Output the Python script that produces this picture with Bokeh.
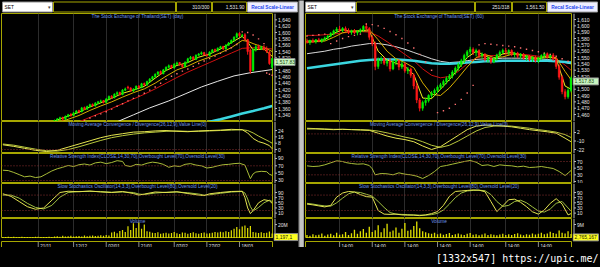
from bokeh.plotting import figure
from bokeh.layouts import row, column
from bokeh.models import Range1d, FixedTicker, Span, Label, ColumnDataSource
from bokeh.embed import file_html
from bokeh.resources import INLINE
from bokeh.core.properties import value

# ====================== DATA : left chart (daily) ======================
L_N = 100
L_cx = list(range(18, 100))
L_open = [1312,1318,1323,1327,1332,1326,1335,1342,1338,1346,1354,1350,1363,1358,1366,1373,1368,1377,1382,1385,
          1379,1390,1399,1394,1405,1411,1404,1418,1428,1425,1416,1421,1431,1426,1439,1434,1445,1453,1460,1468,
          1477,1470,1482,1490,1496,1488,1500,1505,1498,1492,1506,1517,1523,1515,1528,1532,1537,1530,1527,1538,
          1546,1542,1550,1556,1548,1560,1567,1575,1585,1597,1590,1593,1578,1545,1480,1545,1556,1550,1554,1547,
          1538,1490]
L_high = [1320,1325,1330,1334,1334,1338,1343,1345,1349,1355,1356,1365,1366,1369,1375,1376,1380,1384,1388,1387,
          1393,1401,1402,1408,1414,1413,1421,1426,1432,1427,1424,1433,1434,1441,1442,1448,1456,1463,1471,1478,
          1480,1485,1493,1499,1498,1503,1508,1507,1500,1509,1520,1526,1525,1531,1535,1540,1539,1533,1541,1548,
          1549,1553,1558,1558,1563,1570,1578,1588,1600,1601,1596,1598,1580,1548,1550,1560,1562,1558,1560,1556,
          1542,1520]
L_low = [1308,1315,1319,1324,1322,1324,1332,1334,1336,1343,1345,1348,1355,1356,1363,1365,1366,1374,1378,1376,
         1377,1388,1391,1392,1402,1401,1402,1415,1420,1413,1412,1418,1423,1424,1430,1432,1442,1450,1457,1465,
         1467,1468,1479,1487,1485,1486,1497,1495,1489,1490,1504,1514,1512,1513,1525,1529,1527,1524,1525,1535,
         1539,1540,1547,1545,1546,1557,1564,1572,1582,1586,1584,1574,1530,1470,1476,1540,1546,1545,1543,1535,
         1498,1486]
L_close = [1318,1322,1327,1331,1326,1335,1340,1338,1346,1352,1349,1362,1358,1366,1372,1368,1377,1381,1384,1379,
           1390,1398,1394,1405,1410,1404,1418,1422,1425,1416,1421,1430,1426,1438,1434,1445,1453,1460,1468,1475,
           1470,1482,1490,1495,1488,1500,1504,1498,1492,1506,1517,1522,1515,1528,1532,1536,1530,1527,1538,1545,
           1542,1550,1555,1548,1560,1567,1575,1585,1596,1590,1592,1578,1540,1478,1545,1555,1550,1553,1547,1540,
           1502,1517.83]

L_ma_x = [16,20,24,28,32,36,40,44,48,52,56,60,64,68,72,76,80,84,88,90,92,96,99]
L_ma5 = [1310,1324,1336,1348,1365,1378,1392,1408,1418,1430,1456,1480,1496,1505,1522,1532,1548,1568,1588,1570,1545,1548,1525]
L_ma10 = [1300,1314,1326,1338,1354,1368,1381,1396,1410,1422,1440,1462,1482,1494,1510,1522,1536,1552,1575,1572,1565,1553,1540]
L_ma25_x = [24,28,32,36,40,44,48,52,56,60,64,68,72,76,80,84,88,92,96,99]
L_ma25 = [1305,1318,1332,1346,1360,1375,1390,1405,1422,1440,1458,1475,1490,1505,1520,1535,1550,1552,1550,1548]
L_ma75_x = [30,36,42,48,54,61,67,73,79,85,91,95,99]
L_ma75 = [1280,1300,1318,1340,1362,1384,1406,1428,1446,1463,1473,1478,1483]
L_ma200_x = [70,76,80,84,88,92,96,99]
L_ma200 = [1304,1318,1326,1335,1344,1352,1361,1368]
L_sar_x = [30,32,34,36,38,40,42,44,46,48,50,52,54,56,58,60,62,64,66,68,70,72,74,76,78,80,82,84,86,
           88,90,92,94,96,97,98,99]
L_sar = [1322,1330,1337,1343,1350,1358,1367,1375,1384,1392,1400,1408,1418,1428,1440,1452,1462,1470,1478,1485,
         1493,1502,1510,1518,1526,1534,1542,1552,1562,1602,1600,1592,1580,1565,1472,1468,1465]

L_macd_x = [0,4,8,12,16,20,24,28,32,36,40,44,48,52,56,60,64,68,72,76,80,84,88,90,92,94,96,98,99]
L_macd = [6,4,1.5,-1,-2.5,-1,3,7,11,15,18,20,22,22.5,23.5,24,23,22.5,23.5,24,24.5,25.5,25,21,14,10,8,5,1]
L_signal = [7,5.5,3,0.5,-1.5,-2,0,3.5,7.5,11.5,15,17.5,19.5,21,22,23,23.5,23,23,23.5,24,24.5,25,24,21,17,13.5,10,8]

L_rsi_x = [0,2,4,6,8,10,12,14,16,18,20,22,24,26,28,30,32,34,36,38,40,42,44,45,47,49,51,53,55,57,59,61,63,65,
           67,69,71,73,75,77,79,81,83,85,87,89,91,92,93,95,97,98,99]
L_rsi = [58,57,52,46,40,42,38,40,48,56,62,66,71,68,73,75,72,78,80,76,79,84,82,71,68,74,72,77,80,78,74,66,70,68,
         74,76,72,70,64,66,70,73,74,76,77,72,35,48,53,55,54,47,44]

L_sto_x = [0,3,6,9,12,15,18,21,24,28,32,36,40,44,48,50,52,56,60,64,68,72,74,76,80,84,88,89,90,91,92,94,96,98,99]
L_k = [85,75,55,35,25,30,60,90,95,93,96,92,90,94,86,80,84,92,90,93,86,80,78,85,90,94,95,70,30,8,20,50,62,58,48]
L_d = [80,80,68,48,32,26,40,72,90,94,94,94,91,92,90,84,82,88,91,92,89,84,80,81,87,92,94,88,65,35,18,32,50,60,55]

L_vol = [1.8,1.5,2.0,1.6,1.9,1.4,1.7,2.1,1.5,1.8,1.7,1.5,1.9,2.1,1.6,1.8,1.5,2.0,1.7,2.2,
         2.8,2.0,3.3,2.4,2.6,3.5,2.3,2.9,3.1,2.5,3.8,2.7,3.4,4.0,3.0,3.6,4.3,3.3,4.5,3.9,
         8.2,9.5,7.0,10.5,12.0,9.0,17.5,12.0,22.0,15.0,23.0,14.0,20.0,10.0,9.5,8.0,7.5,8.8,6.5,7.2,
         8.0,6.8,7.5,9.2,7.0,6.2,8.4,7.8,6.6,7.4,8.6,7.0,6.4,7.6,8.2,6.8,7.2,8.0,9.0,8.4,
         9.5,8.8,10.0,9.2,11.5,14.0,16.5,13.0,17.0,18.5,15.0,18.0,9.0,8.2,7.6,8.8,7.4,8.0,9.6,6.7]

L_price_ticks = [1340,1360,1380,1400,1420,1440,1460,1480,1500,1520,1540,1560,1580,1600,1620,1640]
L_macd_ticks = [0, 8, 16, 24]
L_rsi_ticks = [30, 50, 70, 90]
L_sto_ticks = [10, 30, 50, 70, 90]
L_vol_ticks = [20]
L_vol_labels = ["20M"]
L_date_ticks = [13, 26, 38, 50, 63, 75, 87]
L_date_labels = ["21/11", "12/12", "02/01", "21/01", "07/02", "27/02", "18/03"]
L_last_price = "1,517.83"
L_last_vol = "1,197,1"

# ====================== DATA : right chart (60 min) ======================
R_N = 90
R_cx = list(range(0, 90))
R_open = [1576,1574,1577,1575,1578,1576,1579,1581,1584,1588,1592,1595,1593,1596,1592,1590,1592,1589,1591,1594,
          1599,1596,1582,1572,1536,1546,1548,1541,1544,1532,1543,1545,1535,1540,1529,1532,1522,1505,1483,1470,
          1479,1482,1490,1494,1498,1503,1507,1512,1517,1521,1527,1533,1539,1545,1553,1559,1563,1558,1561,1553,
          1555,1547,1549,1543,1548,1554,1558,1561,1559,1561,1555,1557,1552,1555,1549,1552,1547,1550,1545,1549,
          1553,1556,1551,1554,1548,1536,1519,1496,1488,1498]
R_high = [1580,1578,1580,1579,1581,1580,1583,1586,1590,1594,1598,1600,1598,1599,1596,1594,1595,1593,1596,1601,
          1603,1598,1585,1575,1550,1552,1551,1547,1549,1546,1548,1547,1544,1542,1535,1534,1525,1510,1486,1482,
          1486,1492,1497,1501,1506,1510,1515,1520,1524,1530,1536,1542,1548,1556,1562,1567,1566,1564,1563,1558,
          1557,1552,1551,1550,1556,1561,1564,1565,1563,1563,1559,1559,1557,1557,1554,1554,1552,1553,1551,1555,
          1558,1558,1556,1557,1550,1539,1522,1500,1502,1520]
R_low = [1572,1570,1573,1572,1574,1573,1576,1578,1582,1585,1589,1591,1590,1591,1587,1586,1587,1585,1588,1591,
         1592,1578,1568,1530,1532,1540,1538,1536,1528,1530,1538,1530,1532,1526,1524,1518,1500,1478,1465,1466,
         1474,1479,1486,1490,1494,1499,1503,1508,1513,1517,1523,1529,1535,1541,1549,1555,1554,1552,1550,1548,
         1544,1542,1540,1541,1545,1551,1555,1556,1554,1552,1550,1549,1548,1546,1545,1544,1543,1542,1541,1546,
         1549,1548,1547,1545,1532,1515,1492,1484,1485,1495]
R_close = [1574,1577,1575,1578,1576,1579,1581,1584,1588,1592,1595,1593,1596,1592,1590,1592,1589,1591,1594,1599,
           1596,1582,1572,1536,1546,1548,1541,1544,1532,1543,1545,1535,1540,1529,1532,1522,1505,1483,1470,1479,
           1482,1490,1494,1498,1503,1507,1512,1517,1521,1527,1533,1539,1545,1553,1559,1563,1558,1561,1553,1555,
           1547,1549,1543,1548,1554,1558,1561,1559,1561,1555,1557,1552,1555,1549,1552,1547,1550,1545,1549,1553,
           1556,1551,1554,1548,1536,1519,1496,1488,1498,1517.83]

R_ma_x = [0,3,6,9,12,15,18,21,24,27,30,33,36,39,42,45,48,51,54,57,60,63,66,69,72,75,78,81,84,87,89]
R_ma_cyan = [1533,1535,1537,1539,1541,1543,1545,1546,1547,1547,1547,1546,1545,1543,1541,1540,1540,1541,1542,1543,
             1544,1544,1545,1545,1545,1545,1545,1545,1544,1543,1542]
R_ma_white = [1556,1558,1560,1563,1565,1568,1570,1572,1572,1570,1567,1563,1558,1553,1548,1544,1542,1543,1545,1547,
              1548,1548,1549,1549,1549,1548,1548,1547,1545,1542,1540]
R_ma_red = [1585,1585,1586,1587,1589,1590,1591,1590,1584,1575,1565,1555,1545,1532,1522,1518,1520,1528,1540,1549,
            1553,1553,1555,1556,1555,1554,1552,1551,1548,1538,1530]
R_ma5 = [1576,1576,1578,1588,1594,1591,1592,1592,1560,1546,1541,1536,1523,1486,1485,1500,1515,1532,1550,1560,
         1553,1546,1556,1558,1554,1550,1548,1553,1548,1505,1500]
R_ma10 = [1574,1575,1576,1582,1589,1592,1592,1594,1578,1560,1548,1542,1534,1510,1492,1490,1502,1518,1535,1550,
          1555,1550,1551,1555,1555,1552,1549,1550,1550,1528,1515]
R_sar_x = [0,2,4,6,8,10,12,14,16,18,20,22,24,26,28,30,32,34,36,38,40,42,44,46,48,50,52,54,56,
           58,60,62,64,66,68,70,72,74,76,78,80,82,84,86,88]
R_sar = [1584,1585,1586,1587,1572,1576,1580,1583,1585,1587,1603,1602,1600,1596,1591,1586,1580,1573,1565,1555,
         1543,1530,1463,1466,1470,1476,1484,1494,1506,1570,1572,1571,1570,1569,1568,1567,1565,1563,1561,1559,
         1557,1555,1552,1548,1544]

R_macd_x = [0,3,6,9,12,15,18,21,24,27,30,33,36,39,42,45,48,51,54,57,60,63,66,69,72,75,78,81,84,87,89]
R_macd = [7,7,6.5,6,6.5,6,5.5,5,1,-3,-6,-8,-11,-17,-22,-18,-10,-2,6,11,12.5,12,11,10,8,6,4.5,3,1,-6,-11]
R_signal = [8,7.5,7,6.5,6.5,6.2,6,5.5,4,1.5,-1.5,-4.5,-7,-11,-16,-19,-16,-10,-3,4,9,11,11.5,11,9.5,8,6,4.5,2.5,-1,-5]

R_rsi_x = [0,2,4,6,8,10,12,13,15,17,19,21,22,23,25,27,29,31,33,35,37,39,41,43,45,47,49,51,53,55,57,59,61,63,
           65,67,69,71,73,75,77,79,81,83,85,87,88,89]
R_rsi = [57,55,56,60,66,72,70,67,64,62,63,58,48,30,34,33,30,36,32,30,26,19,28,40,55,58,62,66,70,73,68,58,60,55,
         60,58,57,54,56,52,53,55,52,49,40,28,35,43]

R_sto_x = [0,2,4,6,8,10,12,14,16,18,20,22,24,26,28,30,32,34,36,38,40,42,44,46,48,50,52,54,56,58,60,62,64,66,
           68,70,72,74,76,78,80,82,84,86,88,89]
R_k = [45,42,38,34,40,72,88,94,92,82,74,72,20,6,5,6,3,2,2,0,3,8,16,40,75,94,96,98,100,99,93,55,16,38,62,64,52,
       35,15,6,22,48,66,45,3,8]
R_d = [48,45,41,38,37,50,68,85,92,90,83,76,55,32,12,6,5,4,3,2,2,4,9,22,45,70,88,96,98,99,97,82,55,36,40,55,60,
       50,34,18,14,26,48,55,30,18]

R_vol = [2.0,1.5,2.5,1.8,2.2,3.0,1.6,2.4,2.8,1.9,3.5,2.2,2.6,4.0,2.1,
         3.2,5.5,2.8,4.5,6.0,3.5,7.5,4.0,5.2,8.5,3.8,6.5,9.5,4.2,5.0,
         7.0,3.6,6.2,10.0,4.8,5.5,8.0,11.0,6.5,4.5,3.8,3.2,2.8,3.6,2.5,
         3.0,2.2,2.7,3.4,2.1,2.6,3.0,2.4,2.0,2.8,3.3,2.2,2.5,1.9,2.3,
         3.1,2.0,2.6,2.2,1.8,2.4,2.9,2.1,2.5,2.0,2.7,3.2,2.3,1.9,2.6,
         2.2,3.0,2.4,2.8,3.5,2.5,3.0,4.2,3.3,2.9,5.0,3.6,3.0,4.5,2.77]

R_price_ticks = [1460,1470,1480,1490,1500,1510,1520,1530,1540,1550,1560,1570,1580,1590,1600,1610]
R_macd_ticks = [-22, -10, 2]
R_rsi_ticks = [10, 30, 50, 70]
R_sto_ticks = [10, 30, 50, 70, 90]
R_vol_ticks = [9]
R_vol_labels = ["9M"]
R_date_ticks = [11, 22, 33, 44, 55, 67, 78]
R_date_labels = ["14:00"] * 7
R_last_price = "1,517.83"
R_last_vol = "2,765,167"

for a, b in [(L_cx, L_open), (L_cx, L_high), (L_cx, L_low), (L_cx, L_close), (L_ma_x, L_ma5), (L_ma_x, L_ma10),
             (L_ma25_x, L_ma25), (L_ma75_x, L_ma75), (L_ma200_x, L_ma200), (L_sar_x, L_sar), (L_macd_x, L_macd),
             (L_macd_x, L_signal), (L_rsi_x, L_rsi), (L_sto_x, L_k), (L_sto_x, L_d), (R_cx, R_open), (R_cx, R_high),
             (R_cx, R_low), (R_cx, R_close), (R_ma_x, R_ma_cyan), (R_ma_x, R_ma_white), (R_ma_x, R_ma_red),
             (R_ma_x, R_ma5), (R_ma_x, R_ma10), (R_sar_x, R_sar), (R_macd_x, R_macd), (R_macd_x, R_signal),
             (R_rsi_x, R_rsi), (R_sto_x, R_k), (R_sto_x, R_d)]:
    assert len(a) == len(b), (len(a), len(b))
assert len(L_vol) == L_N and len(R_vol) == R_N

# ====================== STYLE / LAYOUT ======================
FONT = "Liberation Sans"
C_BG = "#000000"
C_FRAME = "#a6a600"
C_AXIS = "#b8b8b8"
C_TXT = "#e4e4e4"
C_TITLE = "#6f95e8"
C_GRID = "#2c2c2c"
C_REF = "#8c3030"
C_UP = "#00f000"
C_DN = "#ff1818"
AX_FS = "5px"
TI_FS = "4.7px"

L_PW, L_AW = 273, 25      # left: plot figure width (incl. 1px left border), axis strip width
R_PW, R_AW = 268, 28      # right
H_HEAD, H_PRICE, H_MACD, H_RSI, H_STO, H_VOL, H_DATE, H_FOOT = 13, 108, 32, 30, 35, 20, 9, 20
BOX_H = 7


def bare(w, h, xr, yr, outline=None, bl=0, bg=C_BG):
    p = figure(width=w, height=h, x_range=xr, y_range=yr, output_backend="svg", toolbar_location=None,
               x_axis_location=None, y_axis_location=None, min_border_left=bl, min_border_right=0,
               min_border_top=0, min_border_bottom=0, background_fill_color=bg, border_fill_color=bg,
               outline_line_color=outline, outline_line_width=1)
    p.xgrid.visible = False
    p.ygrid.visible = False
    return p


def plot_panel(w, h, xr, yr, xticks):
    p = bare(w, h, xr, yr, outline=C_FRAME, bl=1)
    p.xgrid.visible = True
    p.xgrid.ticker = FixedTicker(ticks=xticks)
    p.xgrid.grid_line_color = C_GRID
    return p


def axis_strip(w, h, yr, lo, hi, ticks, labels, box=None):
    p = bare(w, h, Range1d(0, w), yr)
    p.segment(x0=[1.5], y0=[lo], x1=[1.5], y1=[hi], line_color=C_AXIS, line_width=1)
    p.segment(x0=[1.5] * len(ticks), y0=ticks, x1=[3.5] * len(ticks), y1=ticks, line_color=C_AXIS, line_width=1)
    p.text(x=[4.5] * len(ticks), y=ticks, text=labels, text_baseline="middle", text_font=value(FONT),
           text_font_size=AX_FS, text_color=C_TXT)
    if box is not None:
        val, text, fill, tcol, bw = box
        upp = (yr.end - yr.start) / h
        p.quad(left=[0.5], right=[bw], top=[val], bottom=[val - BOX_H * upp], fill_color=fill,
               line_color="#8a8a8a", line_width=1)
        p.text(x=[2], y=[val - BOX_H * upp / 2], text=[text], text_baseline="middle", text_font=value(FONT),
               text_font_size=AX_FS, text_color=tcol)
    return p


def add_title(p, xr, yr, text):
    p.add_layout(Label(x=(xr.start + xr.end) / 2, y=yr.end, text=text, text_align="center",
                       text_baseline="top", text_font=FONT, text_font_size=TI_FS, text_color=C_TITLE))


def candles(p, xs, o, h, l, c, width):
    col = [C_UP if cc >= oo else C_DN for oo, cc in zip(o, c)]
    src = ColumnDataSource(dict(x=xs, h=h, l=l, top=[max(a, b) for a, b in zip(o, c)],
                                bot=[min(a, b) for a, b in zip(o, c)], col=col))
    p.segment(x0="x", y0="h", x1="x", y1="l", line_color="col", line_width=1, source=src)
    p.vbar(x="x", width=width, top="top", bottom="bot", fill_color="col", line_color="col",
           line_width=0.5, source=src)


def header(w, boxes, texts):
    p = bare(w, H_HEAD, Range1d(0, w), Range1d(H_HEAD, 0))
    for (x0, x1, fill, line) in boxes:
        p.quad(left=x0, right=x1, top=1.5, bottom=11.5, fill_color=fill, line_color=line, line_width=1)
    for (x, t, align, color, style) in texts:
        p.text(x=[x], y=[6.8], text=[t], text_align=align, text_baseline="middle",
               text_font=value(FONT), text_font_size="4.8px", text_color=color, text_font_style=style)
    return p


def fmt_ticks(ticks):
    return [f"{t:,}" for t in ticks]


def half(pw, aw, n, cx, o, h, l, c, ma_sets, sar_x, sar, macd_x, macd, sig, rsi_x, rsi, sto_x, k, d,
         vol, price_rng, price_ticks, macd_rng, macd_ticks, rsi_rng, rsi_ticks, sto_rng, sto_ticks,
         vol_rng, vol_ticks, vol_labels, date_ticks, date_labels, ptitle, last_price, last_vol, hdr,
         pbox_w, vbox_w):
    xr = Range1d(-0.5, n - 0.5)
    # price
    pr = Range1d(*price_rng)
    pp = plot_panel(pw, H_PRICE, xr, pr, date_ticks)
    for (mx, my, colr, lw) in ma_sets:
        pp.line(mx, my, line_color=colr, line_width=lw)
    candles(pp, cx, o, h, l, c, 0.6)
    pp.scatter(sar_x, sar, marker="square", size=1.4, fill_color="#ff7070", line_color=None)
    add_title(pp, xr, pr, ptitle)
    ap = axis_strip(aw, H_PRICE, pr, pr.start, pr.end, price_ticks, fmt_ticks(price_ticks),
                    box=(c[-1], last_price, "#c8f4c0", "#1a4a10", pbox_w))
    # macd
    mr = Range1d(*macd_rng)
    pm = plot_panel(pw, H_MACD, xr, mr, date_ticks)
    pm.add_layout(Span(location=0, dimension="width", line_color=C_REF, line_dash="1 2", line_width=1))
    pm.line(macd_x, sig, line_color="#b8c83c", line_width=1)
    pm.line(macd_x, macd, line_color="#e6e650", line_width=1)
    add_title(pm, xr, mr, "Moving Average Convergence / Divergence(26,12,9),Value Line(0)")
    am = axis_strip(aw, H_MACD, mr, mr.start, mr.end, macd_ticks, fmt_ticks(macd_ticks))
    # rsi
    rr = Range1d(*rsi_rng)
    prs = plot_panel(pw, H_RSI, xr, rr, date_ticks)
    for lev in (70, 30):
        prs.add_layout(Span(location=lev, dimension="width", line_color=C_REF, line_dash="1 2", line_width=1))
    prs.line(rsi_x, rsi, line_color="#a8bc38", line_width=1)
    add_title(prs, xr, rr, "Relative Strength Index(CLOSE,14,30,70),Overbought Level(70),Oversold Level(30)")
    ar = axis_strip(aw, H_RSI, rr, rr.start, rr.end, rsi_ticks, fmt_ticks(rsi_ticks))
    # stochastic
    sr = Range1d(*sto_rng)
    ps = plot_panel(pw, H_STO, xr, sr, date_ticks)
    for lev in (80, 20):
        ps.add_layout(Span(location=lev, dimension="width", line_color=C_REF, line_dash="1 2", line_width=1))
    ps.line(sto_x, d, line_color="#a0c040", line_width=1)
    ps.line(sto_x, k, line_color="#e4e450", line_width=1)
    add_title(ps, xr, sr, "Slow Stochastics Oscillator(14,3,3),Overbought Level(80),Oversold Level(20)")
    ast = axis_strip(aw, H_STO, sr, sr.start, sr.end, sto_ticks, fmt_ticks(sto_ticks))
    # volume
    vr = Range1d(*vol_rng)
    pv = plot_panel(pw, H_VOL, xr, vr, date_ticks)
    pv.vbar(x=list(range(n)), width=0.45, top=vol, bottom=0, fill_color="#dede00", line_color=None)
    add_title(pv, xr, vr, "Volume")
    vupp = (vr.end - vr.start) / H_VOL
    vr_ax = Range1d(vr.start - H_DATE * vupp, vr.end)   # axis strip also covers the date row
    av = axis_strip(aw, H_VOL + H_DATE, vr_ax, vr.start, vr.end, vol_ticks, vol_labels,
                    box=(vol[-1], last_vol, "#ffff20", "#202000", vbox_w))
    # date strip
    pd_ = bare(pw, H_DATE, xr, Range1d(0, 1), outline=C_FRAME, bl=1)
    pd_.segment(x0=date_ticks, y0=[0] * len(date_ticks), x1=date_ticks, y1=[1] * len(date_ticks),
                line_color="#8a8a8a", line_width=1)
    pd_.text(x=date_ticks, y=[0.5] * len(date_ticks), text=date_labels, x_offset=2, text_baseline="middle",
             text_font=value(FONT), text_font_size="4.6px", text_color=C_TXT)
    return column(hdr,
                  row(pp, ap, spacing=0), row(pm, am, spacing=0), row(prs, ar, spacing=0),
                  row(ps, ast, spacing=0), row(column(pv, pd_, spacing=0), av, spacing=0), spacing=0)


hdr_l = header(L_PW + L_AW,
               [(2, 52, "#ffffff", "#909090"), (53, 175, C_BG, C_FRAME), (176, 211, C_BG, C_FRAME),
                (212, 246, C_BG, C_FRAME), (247, 297, "#eeeeff", "#a0a0a0")],
               [(4, "SET", "left", "#000000", "normal"), (50, "\u25be", "right", "#404040", "normal"),
                (209, "310/300", "right", C_TXT, "normal"), (244, "1,531.90", "right", C_TXT, "normal"),
                (272, "Recal Scale-Linear", "center", "#2244ee", "bold")])
hdr_r = header(R_PW + R_AW,
               [(1, 51, "#ffffff", "#909090"), (52, 170, C_BG, C_FRAME), (171, 207, C_BG, C_FRAME),
                (208, 242, C_BG, C_FRAME), (243, 293, "#eeeeff", "#a0a0a0")],
               [(3, "SET", "left", "#000000", "normal"), (49, "\u25be", "right", "#404040", "normal"),
                (205, "251/318", "right", C_TXT, "normal"), (240, "1,561.50", "right", C_TXT, "normal"),
                (268, "Recal Scale-Linear", "center", "#2244ee", "bold")])

left = half(L_PW, L_AW, L_N, L_cx, L_open, L_high, L_low, L_close,
            [(L_ma200_x, L_ma200, "#3ad6e0", 2.5), (L_ma75_x, L_ma75, "#e8e8e8", 1),
             (L_ma25_x, L_ma25, "#d01010", 1), (L_ma_x, L_ma10, "#d8b000", 1), (L_ma_x, L_ma5, "#f0f020", 1)],
            L_sar_x, L_sar, L_macd_x, L_macd, L_signal, L_rsi_x, L_rsi, L_sto_x, L_k, L_d, L_vol,
            (1319, 1660), L_price_ticks, (-5, 35.4), L_macd_ticks, (21.8, 103.6), L_rsi_ticks,
            (-11, 125), L_sto_ticks, (-0.6, 29), L_vol_ticks, L_vol_labels,
            L_date_ticks, L_date_labels, "The Stock Exchange of Thailand(SET) (day)", L_last_price, L_last_vol,
            hdr_l, 21.5, 24.5)

right = half(R_PW, R_AW, R_N, R_cx, R_open, R_high, R_low, R_close,
             [(R_ma_x, R_ma_white, "#d8d8d8", 1), (R_ma_x, R_ma_red, "#d01010", 1),
              (R_ma_x, R_ma_cyan, "#3ad6e0", 2.5), (R_ma_x, R_ma10, "#d8b000", 1), (R_ma_x, R_ma5, "#f0f020", 1)],
             R_sar_x, R_sar, R_macd_x, R_macd, R_signal, R_rsi_x, R_rsi, R_sto_x, R_k, R_d, R_vol,
             (1449, 1619.5), R_price_ticks, (-27.6, 17.5), R_macd_ticks, (4, 94), R_rsi_ticks,
             (-11, 125), R_sto_ticks, (-0.3, 13), R_vol_ticks, R_vol_labels,
             R_date_ticks, R_date_labels, "The Stock Exchange of Thailand(SET) (60)", R_last_price, R_last_vol,
             hdr_r, 26, 26)

H_BODY = H_HEAD + H_PRICE + H_MACD + H_RSI + H_STO + H_VOL + H_DATE
DIV_W = 600 - (L_PW + L_AW) - (R_PW + R_AW)
div = bare(DIV_W, H_BODY, Range1d(0, DIV_W), Range1d(0, 1), bg="#8c8c8c")
div.quad(left=[1.2], right=[DIV_W - 1.2], top=[1], bottom=[0], fill_color="#c4c4c4", line_color=None)

foot = bare(600, H_FOOT, Range1d(0, 600), Range1d(0, H_FOOT))
foot.text(x=[598], y=[9], text=["[1332x547] https://upic.me/"], text_align="right", text_baseline="middle",
          text_font=value("DejaVu Sans Mono"), text_font_size="10px", text_color="#ffffff")

layout = column(row(left, div, right, spacing=0), foot, spacing=0, styles={"background-color": "#000000"})

open("out.html", "w").write(file_html(layout, INLINE))
